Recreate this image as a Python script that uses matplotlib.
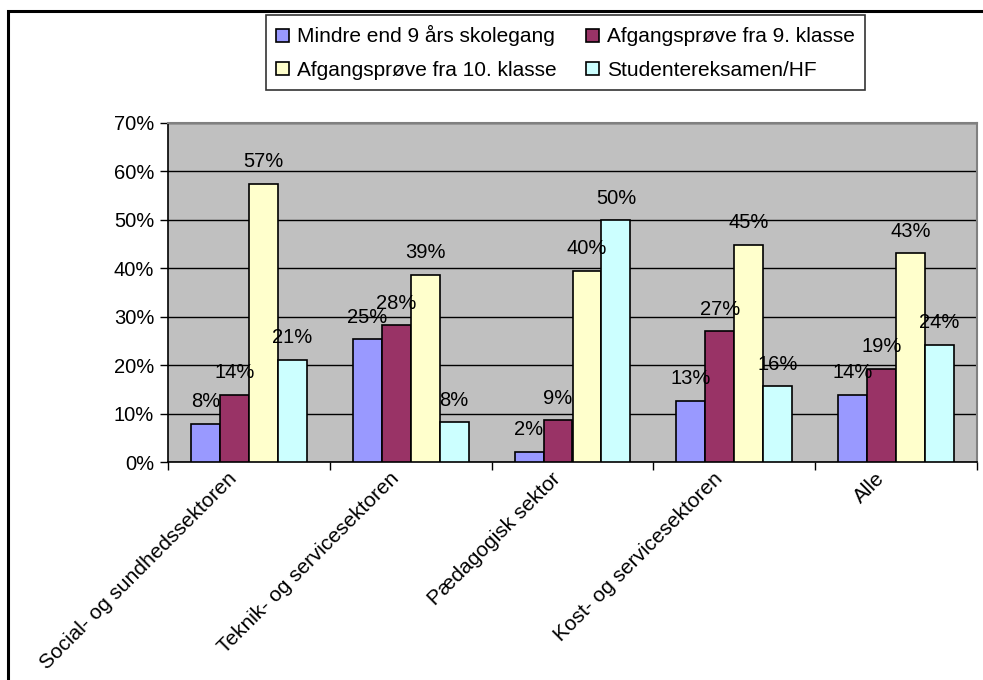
from matplotlib import pyplot as plt
from matplotlib.patches import Rectangle
import numpy as np

plt.rcParams["font.family"] = ["Liberation Sans", "DejaVu Sans"]

categories = [
    "Social- og sundhedssektoren",
    "Teknik- og servicesektoren",
    "Pædagogisk sektor",
    "Kost- og servicesektoren",
    "Alle",
]
series_names = [
    "Mindre end 9 års skolegang",
    "Afgangsprøve fra 9. klasse",
    "Afgangsprøve fra 10. klasse",
    "Studentereksamen/HF",
]
mindre = [7.9, 25.3, 2.1, 12.6, 13.9]
klasse9 = [13.9, 28.2, 8.6, 27.0, 19.2]
klasse10 = [57.4, 38.6, 39.5, 44.9, 43.1]
student = [21.1, 8.2, 49.9, 15.6, 24.2]
colors = ["#9999FF", "#993366", "#FFFFCC", "#CCFFFF"]

W, H = 983, 680
FS = 14.5
fig = plt.figure(figsize=(W / 100, H / 100), dpi=100)

# outer frame (only top and left edges visible in the crop)
fig.patches.append(Rectangle((8 / W, -0.1), 1.2, 1 - 11 / H + 0.1,
                             transform=fig.transFigure, fill=False,
                             edgecolor="black", linewidth=2.2))

ax = fig.add_axes([168 / W, (H - 462) / H, (977 - 168) / W, (462 - 123) / H])
ax.set_facecolor("#C0C0C0")

x = np.arange(len(categories))
bw = 0.179
handles = []
for i, (vals, c) in enumerate(zip([mindre, klasse9, klasse10, student], colors)):
    pos = x + (i - 1.5) * bw
    b = ax.bar(pos, vals, width=bw, color=c, edgecolor="black", linewidth=1.2,
               zorder=3, label=series_names[i])
    handles.append(b)
    for px, v in zip(pos, vals):
        ax.annotate(f"{int(v + 0.5):d}%", (px, v), xytext=(0, 12),
                    textcoords="offset points", ha="center", va="baseline",
                    fontsize=FS, zorder=4)

ax.set_xlim(-0.5, len(categories) - 0.5)
ax.set_ylim(0, 70)
ax.set_yticks(np.arange(0, 71, 10))
ax.set_yticklabels([f"{v}%" for v in range(0, 71, 10)], fontsize=FS)
ax.yaxis.grid(True, color="black", linewidth=1, zorder=0)
ax.set_axisbelow(True)

ax.set_xticks(np.arange(-0.5, len(categories)), labels=[])
ax.set_xticks(x - 0.05, minor=True)
ax.set_xticklabels(categories, minor=True, rotation=45, ha="right", va="top",
                   rotation_mode="default", fontsize=15)
ax.tick_params(axis="x", which="major", direction="out", length=6, width=1)
ax.tick_params(axis="x", which="minor", length=0, pad=5)
ax.tick_params(axis="y", direction="out", length=6, width=1, pad=4)

for s in ["left", "bottom"]:
    ax.spines[s].set_color("black")
    ax.spines[s].set_linewidth(1.2)
for s in ["top", "right"]:
    ax.spines[s].set_color("#808080")
    ax.spines[s].set_linewidth(1.5)

order = [0, 2, 1, 3]
leg = fig.legend([handles[k] for k in order], [series_names[k] for k in order],
                 ncol=2, loc="upper left", bbox_to_anchor=(266 / W, 1 - 15 / H),
                 borderaxespad=0, fontsize=15, frameon=True, fancybox=False,
                 edgecolor="black", handlelength=0.6, handleheight=0.6,
                 handletextpad=0.4, columnspacing=1.4, labelspacing=0.7,
                 borderpad=0.5)
leg.get_frame().set_linewidth(1.2)

fig.savefig("out.png", dpi=100, facecolor="white")
